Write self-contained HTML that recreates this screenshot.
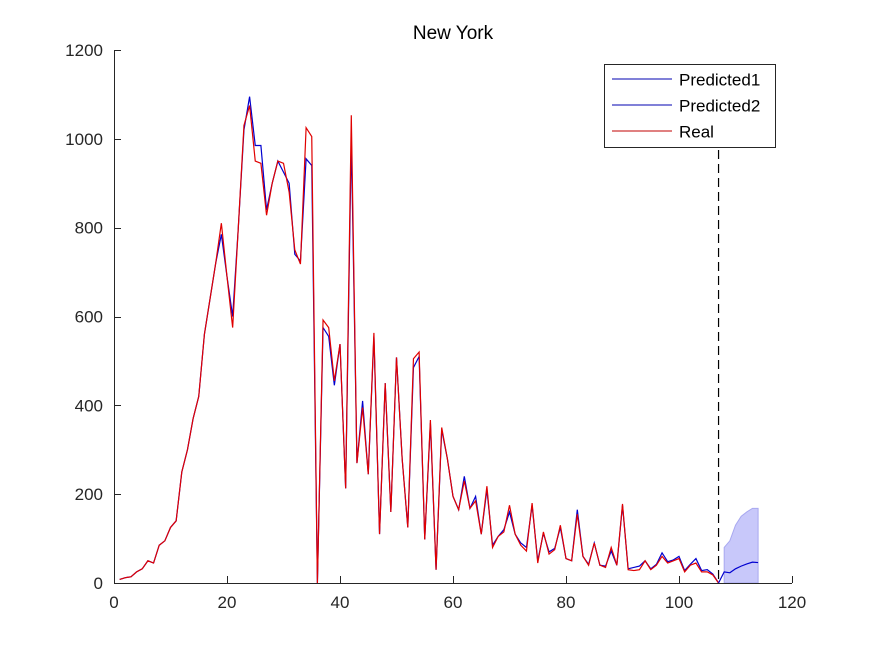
<!DOCTYPE html>
<html><head><meta charset="utf-8">
<style>
body{margin:0;background:#fff;}
svg{display:block;font-family:"Liberation Sans",Arial,sans-serif;}
</style></head>
<body>
<svg id="chart" width="875" height="656" viewBox="0 0 875 656" xmlns="http://www.w3.org/2000/svg">
<rect width="875" height="656" fill="#fff"/>
<text x="453" y="39" font-size="19" text-anchor="middle" fill="#000">New York</text>
<g id="plot"></g>
<g id="axes"></g>
<g>
<rect x="604.5" y="64.5" width="171" height="83" fill="#fff" stroke="#262626" stroke-width="1"/>
<line x1="612" y1="79" x2="672" y2="79" stroke="#0000b0" stroke-width="1"/>
<text x="679" y="85.5" font-size="17">Predicted1</text>
<line x1="612" y1="105" x2="672" y2="105" stroke="#0000b0" stroke-width="1"/>
<text x="679" y="111.5" font-size="17">Predicted2</text>
<line x1="612" y1="131" x2="672" y2="131" stroke="#c00000" stroke-width="1"/>
<text x="679" y="137.5" font-size="17">Real</text>
</g>
</svg>
<script>
const realValues=[8,12,14,25,32,50,45,85,95,125,140,250,300,370,420,560,640,720,810,690,575,800,1030,1075,950,945,828,900,950,945,880,750,718,1025,1005,0,592,575,455,538,213,1053,270,395,245,563,110,450,160,508,280,125,505,520,98,367,30,350,280,195,165,230,168,185,110,218,80,105,115,175,110,85,72,180,45,115,65,75,130,55,50,155,60,40,90,40,35,80,40,178,30,28,30,50,30,40,60,45,50,55,25,40,45,25,25,18,0];
const pred1Values=[8,12,14,25,32,50,45,85,95,125,140,250,300,370,420,560,640,720,785,690,600,800,1020,1095,985,985,840,900,950,925,900,740,725,955,940,0,575,555,445,538,213,1000,270,410,245,555,110,450,160,508,280,125,485,510,98,360,30,345,280,195,165,240,168,195,110,210,85,105,120,160,110,90,80,175,50,112,70,78,125,55,50,165,60,42,90,40,38,72,40,175,32,35,38,50,32,42,68,48,52,60,28,42,55,28,30,20,0];
const pred2X=[107,108,109,110,111,112,113,114];
const pred2Values=[0,25,23,32,38,43,47,46];
const bandUpper=[0,80,95,130,150,160,168,168];
const bandLower=[0,0,0,0,0,0,0,0];
const xTicks=[0,20,40,60,80,100,120];
const yTicks=[0,200,400,600,800,1000,1200];
const forecastStart=107;

const X0=114,X1=792,Y0=583,Y1=50;
const xs=v=>X0+(v-0)/(120-0)*(X1-X0);
const ys=v=>Y0-(v-0)/(1200-0)*(Y0-Y1);
const NS="http://www.w3.org/2000/svg";
const plot=document.getElementById('plot'),axes=document.getElementById('axes');
function mk(tag,attrs,parent){const e=document.createElementNS(NS,tag);for(const k in attrs)e.setAttribute(k,attrs[k]);parent.appendChild(e);return e;}

let bp=pred2X.map((x,i)=>xs(x)+','+ys(bandUpper[i]));
for(let i=pred2X.length-1;i>=1;i--)bp.push(xs(pred2X[i])+','+ys(bandLower[i]));
const band=mk('polygon',{points:bp.slice(1).join(' '),fill:'#c8c8fa',stroke:'#a8a8f0','stroke-width':1},plot);



const p1=mk('polyline',{points:pred1Values.map((v,i)=>xs(i+1)+','+ys(v)).join(' '),fill:'none',stroke:'#0000d0','stroke-width':1.2},plot);


const r=mk('polyline',{points:realValues.map((v,i)=>xs(i+1)+','+ys(v)).join(' '),fill:'none',stroke:'#e00000','stroke-width':1.2},plot);


const p2=mk('polyline',{points:pred2Values.map((v,i)=>xs(pred2X[i])+','+ys(v)).join(' '),fill:'none',stroke:'#0000d0','stroke-width':1.2},plot);


const dl=mk('line',{x1:xs(forecastStart),x2:xs(forecastStart),y1:150,y2:Y0,stroke:'#000','stroke-width':1.2,'stroke-dasharray':'9,5'},plot);



mk('line',{x1:X0,x2:X1,y1:Y0+.5,y2:Y0+.5,stroke:'#262626','stroke-width':1},axes);
mk('line',{x1:X0+.5,x2:X0+.5,y1:Y1,y2:Y0,stroke:'#262626','stroke-width':1},axes);
xTicks.forEach(t=>{
  const x=Math.round(xs(t))+.5;
  mk('line',{x1:x,x2:x,y1:Y0,y2:Y0-7,stroke:'#262626'},axes);
  const tx=mk('text',{x:xs(t),y:Y0+25,'font-size':17,'text-anchor':'middle',fill:'#262626'},axes);
  tx.textContent=t;
  
  
});
yTicks.forEach(t=>{
  const y=Math.round(ys(t))+.5;
  mk('line',{x1:X0,x2:X0+7,y1:y,y2:y,stroke:'#262626'},axes);
  const tx=mk('text',{x:X0-11,y:ys(t)+6,'font-size':17,'text-anchor':'end',fill:'#262626'},axes);
  tx.textContent=t;
  
  
});
</script>
</body></html>
